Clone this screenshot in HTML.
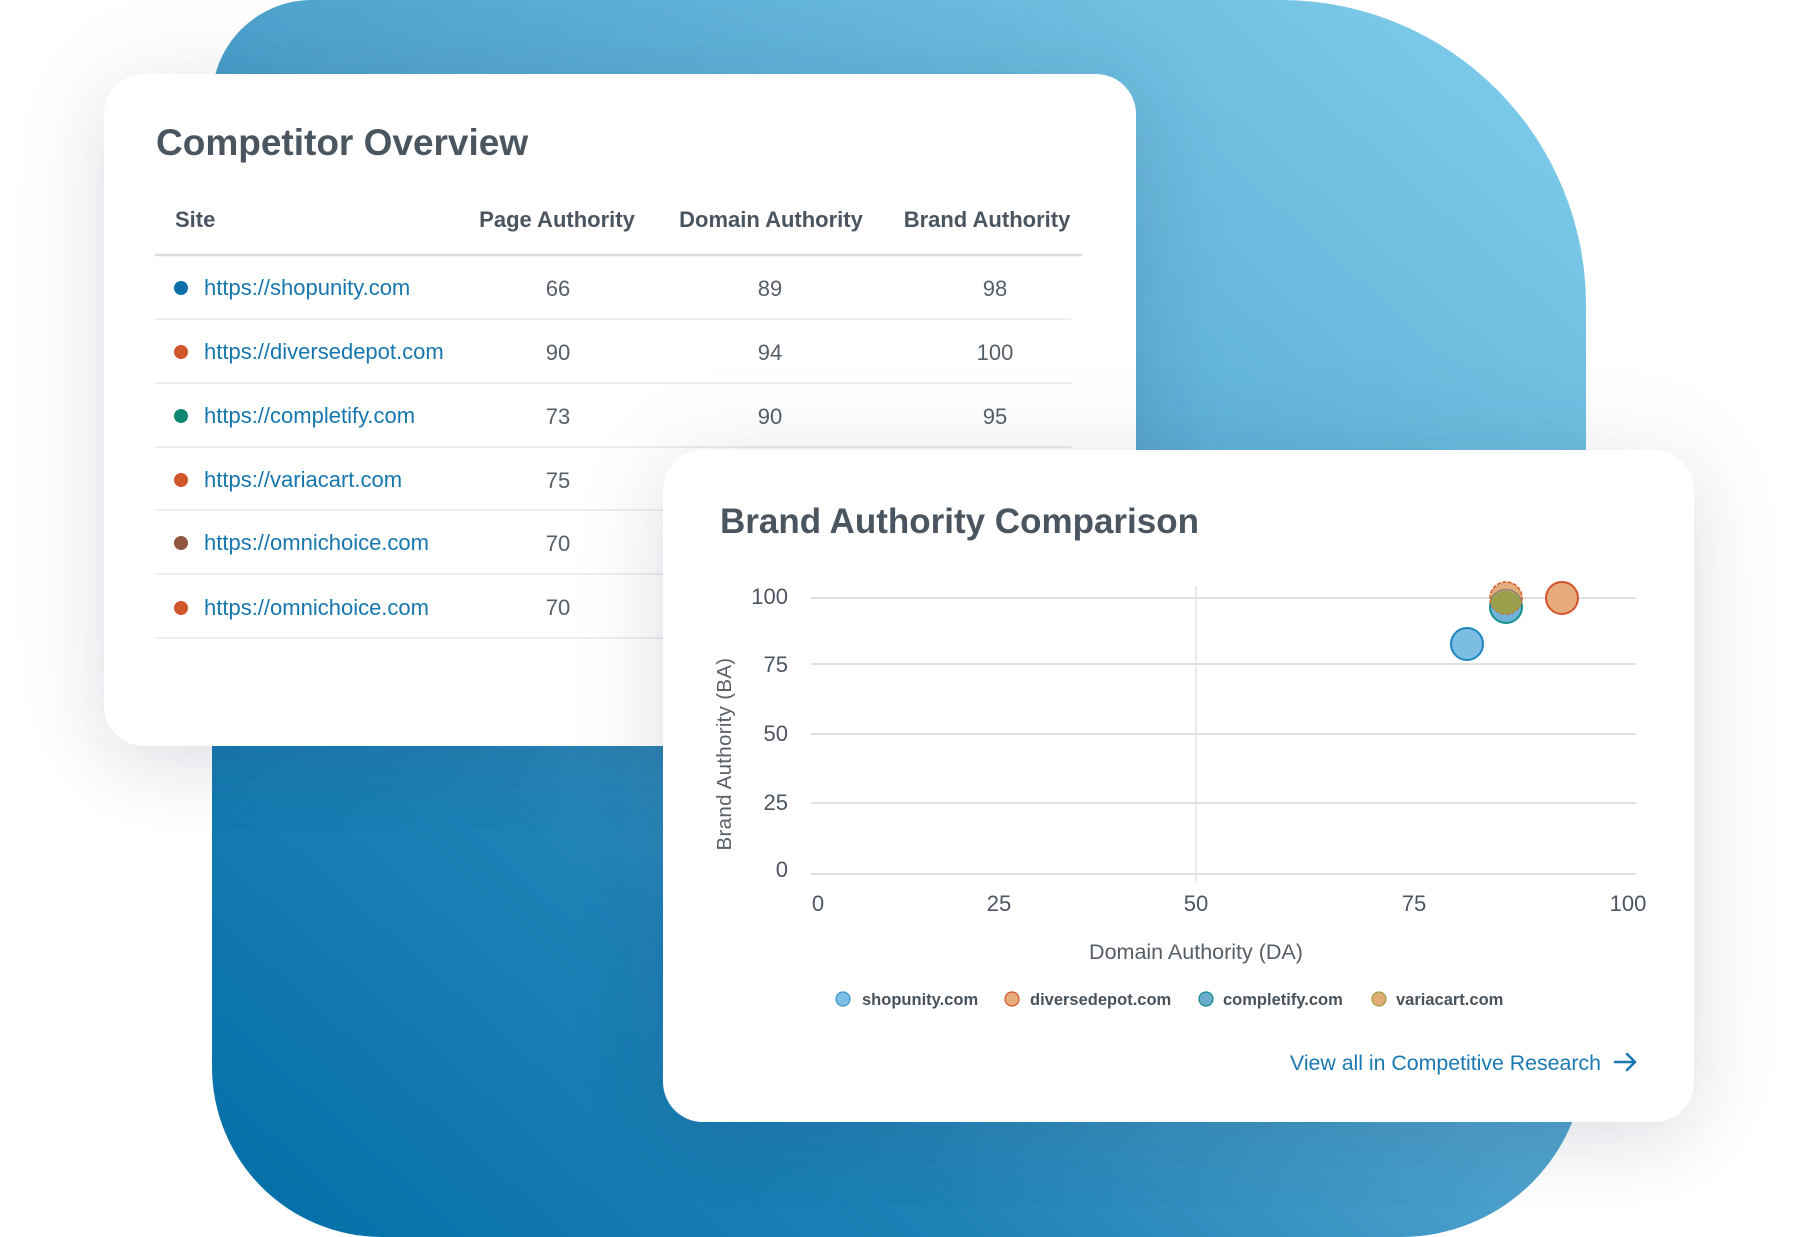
<!DOCTYPE html>
<html>
<head>
<meta charset="utf-8">
<style>
  html, body { margin:0; padding:0; }
  body { width:1800px; height:1200px; position:relative; overflow:hidden; background:#ffffff;
         font-family:"Liberation Sans", Arial, sans-serif; }
  .blob { position:absolute; left:212px; top:0; width:1374px; height:1237px;
          border-radius:100px 305px 185px 170px;
          background:linear-gradient(to top right, #026ea6 0%, #1f82b7 28%, #4ea2cd 50%, #82cfec 100%); }
  .card { position:absolute; background:#ffffff; border-radius:40px;
          box-shadow: 0 24px 70px rgba(40,60,85,0.10), 0 0 110px rgba(40,60,85,0.07); }
  .card svg { position:absolute; left:0; top:0; }
  text { font-family:"Liberation Sans", Arial, sans-serif; }
</style>
</head>
<body>
<div class="blob"></div>

<!-- Competitor Overview card -->
<div class="card" style="left:104px; top:74px; width:1032px; height:672px;">
  <svg width="1032" height="672" viewBox="104 74 1032 672">
    <text x="156" y="155" font-size="37" font-weight="bold" fill="#4b5560">Competitor Overview</text>
    <g font-size="22" font-weight="bold" fill="#4b5560">
      <text x="175" y="227">Site</text>
      <text x="557" y="227" text-anchor="middle">Page Authority</text>
      <text x="771" y="227" text-anchor="middle">Domain Authority</text>
      <text x="987" y="227" text-anchor="middle">Brand Authority</text>
    </g>
    <line x1="155" y1="255" x2="1082" y2="255" stroke="#d8dcdf" stroke-width="2.5"/>
    <g stroke="#e5e8ea" stroke-width="1.5">
      <line x1="155" y1="319" x2="1071" y2="319"/>
      <line x1="155" y1="383" x2="1071" y2="383"/>
      <line x1="155" y1="447" x2="1071" y2="447"/>
      <line x1="155" y1="510" x2="1071" y2="510"/>
      <line x1="155" y1="574" x2="1071" y2="574"/>
      <line x1="155" y1="638" x2="1071" y2="638"/>
    </g>
    <circle cx="181" cy="288" r="7" fill="#0b6fa8"/>
    <circle cx="181" cy="352" r="7" fill="#cf562c"/>
    <circle cx="181" cy="416" r="7" fill="#0f8672"/>
    <circle cx="181" cy="480" r="7" fill="#cf562c"/>
    <circle cx="181" cy="543" r="7" fill="#92553f"/>
    <circle cx="181" cy="608" r="7" fill="#cf562c"/>
    <g font-size="22" fill="#1677ae">
      <text x="204" y="295">https://shopunity.com</text>
      <text x="204" y="359">https://diversedepot.com</text>
      <text x="204" y="423">https://completify.com</text>
      <text x="204" y="487">https://variacart.com</text>
      <text x="204" y="550">https://omnichoice.com</text>
      <text x="204" y="615">https://omnichoice.com</text>
    </g>
    <g font-size="22" fill="#565e66" text-anchor="middle">
      <text x="558" y="296">66</text><text x="770" y="296">89</text><text x="995" y="296">98</text>
      <text x="558" y="360">90</text><text x="770" y="360">94</text><text x="995" y="360">100</text>
      <text x="558" y="424">73</text><text x="770" y="424">90</text><text x="995" y="424">95</text>
      <text x="558" y="488">75</text>
      <text x="558" y="551">70</text>
      <text x="558" y="615">70</text>
    </g>
  </svg>
</div>

<!-- Brand Authority Comparison card -->
<div class="card" style="left:663px; top:450px; width:1031px; height:672px;">
  <svg width="1031" height="672" viewBox="663 450 1031 672">
    <defs>
      <clipPath id="cb"><circle cx="1506" cy="607" r="16"/></clipPath>
    </defs>
    <text x="720" y="533" font-size="35" font-weight="bold" fill="#4b5560">Brand Authority Comparison</text>

    <!-- grid -->
    <line x1="1196" y1="586" x2="1196" y2="883" stroke="#e2e6e9" stroke-width="1.5"/>
    <g stroke="#dfe2e5" stroke-width="2">
      <line x1="811" y1="598" x2="1636" y2="598"/>
      <line x1="811" y1="664" x2="1636" y2="664"/>
      <line x1="811" y1="734" x2="1636" y2="734"/>
      <line x1="811" y1="803" x2="1636" y2="803"/>
      <line x1="811" y1="874" x2="1636" y2="874"/>
    </g>

    <!-- y tick labels -->
    <g font-size="22" fill="#4b5560" text-anchor="end">
      <text x="788" y="604">100</text>
      <text x="788" y="672">75</text>
      <text x="788" y="741">50</text>
      <text x="788" y="810">25</text>
      <text x="788" y="877">0</text>
    </g>
    <!-- x tick labels -->
    <g font-size="22" fill="#4b5560" text-anchor="middle">
      <text x="818" y="911">0</text>
      <text x="999" y="911">25</text>
      <text x="1196" y="911">50</text>
      <text x="1414" y="911">75</text>
      <text x="1628" y="911">100</text>
    </g>

    <text transform="translate(731,754) rotate(-90)" font-size="20.5" fill="#5a6168" text-anchor="middle" letter-spacing="0.3">Brand Authority (BA)</text>
    <text x="1196" y="959" font-size="21.5" fill="#555e66" text-anchor="middle">Domain Authority (DA)</text>

    <!-- bubbles -->
    <circle cx="1467" cy="644" r="16" fill="#7cbde3" stroke="#1f85be" stroke-width="2"/>
    <circle cx="1506" cy="607" r="16" fill="#6fb2d6" stroke="#13908c" stroke-width="2"/>
    <circle cx="1506" cy="598" r="16" fill="#e4ad7c" stroke="#d4602e" stroke-width="1.6" stroke-dasharray="4 1.5"/>
    <circle cx="1506" cy="598" r="16" fill="#9ba04c" clip-path="url(#cb)"/>
    <path d="M1491 600 A16 16 0 0 1 1521 600" fill="none" stroke="#5c6b66" stroke-width="1.5" opacity="0.7"/>
    <circle cx="1562" cy="598" r="16" fill="#e6aa7b" stroke="#d2552b" stroke-width="2"/>

    <!-- legend -->
    <circle cx="843" cy="999" r="7" fill="#7cbde3" stroke="#3d97c9" stroke-width="1.2"/>
    <circle cx="1012" cy="999" r="7" fill="#e6aa7b" stroke="#d2552b" stroke-width="1.2"/>
    <circle cx="1206" cy="999" r="7" fill="#6aaccc" stroke="#138a8a" stroke-width="1.2"/>
    <circle cx="1379" cy="999" r="7" fill="#e2ac78" stroke="#a0a040" stroke-width="1.2"/>
    <g font-size="16.5" font-weight="bold" fill="#48525b">
      <text x="862" y="1005">shopunity.com</text>
      <text x="1030" y="1005">diversedepot.com</text>
      <text x="1223" y="1005">completify.com</text>
      <text x="1396" y="1005">variacart.com</text>
    </g>

    <!-- link -->
    <text x="1290" y="1070" font-size="21.3" fill="#1a78b2">View all in Competitive Research</text>
    <g stroke="#1a78b2" stroke-width="2.6" fill="none" stroke-linecap="round" stroke-linejoin="round">
      <line x1="1615" y1="1062" x2="1635" y2="1062"/>
      <polyline points="1627,1054 1635,1062 1627,1070"/>
    </g>
  </svg>
</div>
</body>
</html>
